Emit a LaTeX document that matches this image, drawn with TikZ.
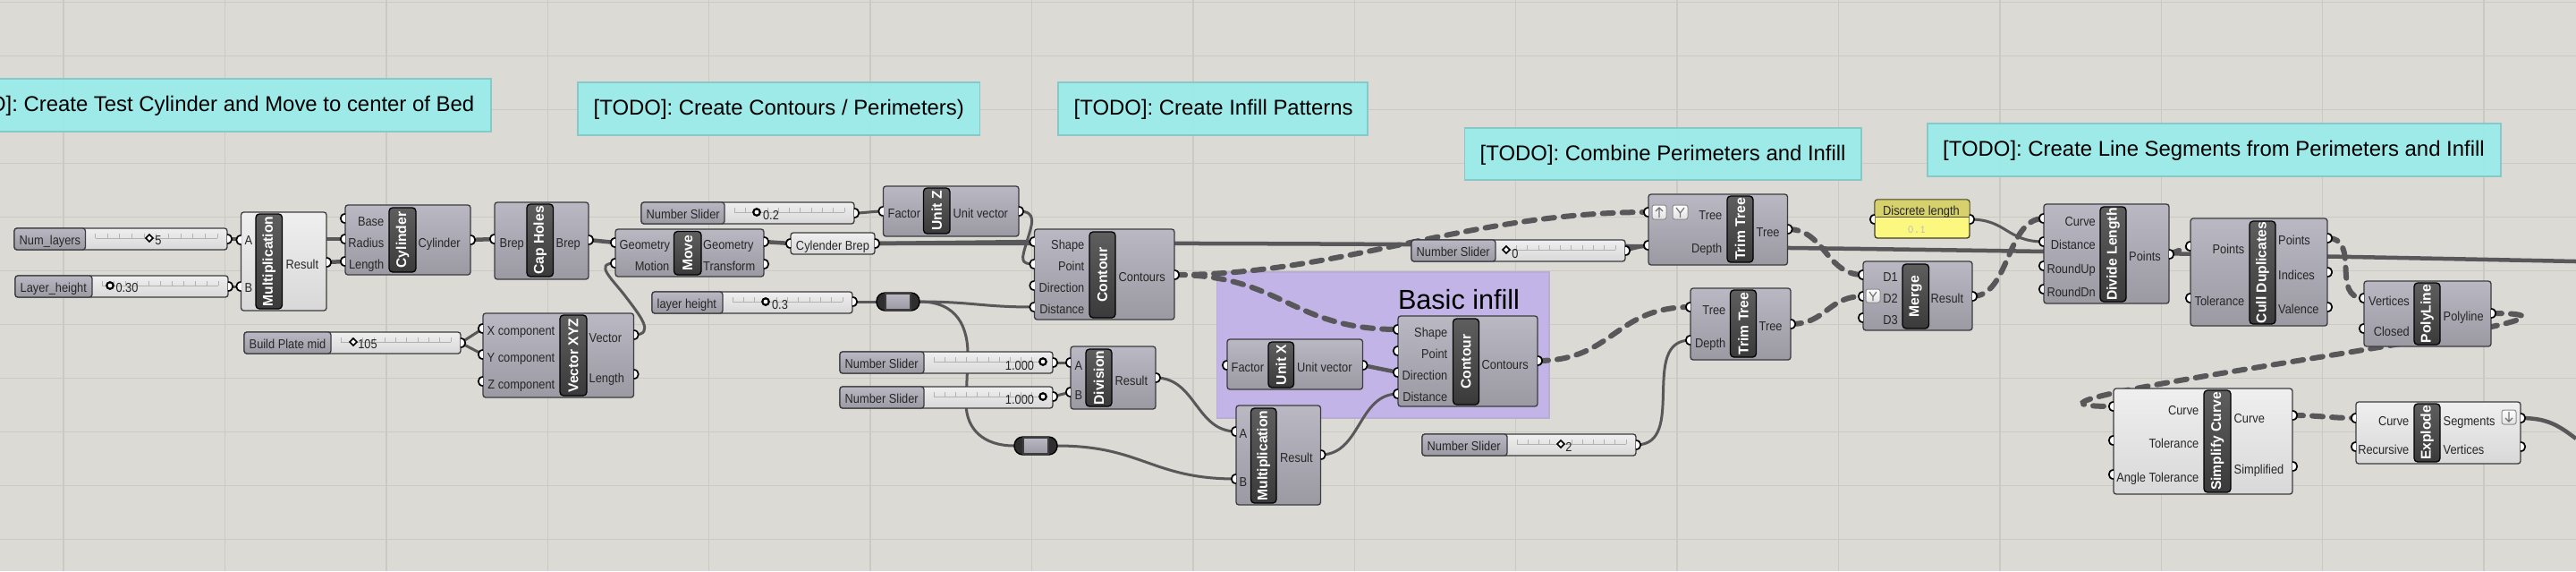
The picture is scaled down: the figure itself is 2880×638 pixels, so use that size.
\documentclass[tikz,border=0pt]{standalone}
\usepackage{fontspec}
\setmainfont{Liberation Sans}
\newfontfamily\labfont{Liberation Sans}[FakeStretch=0.89]
\usetikzlibrary{fit,shapes.geometric}

\definecolor{canvasbg}{HTML}{DCDAD4}
\definecolor{gridline}{HTML}{CAC9C2}
\definecolor{notefill}{HTML}{99ECEB}
\definecolor{noteline}{HTML}{86C9C8}
\definecolor{infillfill}{HTML}{C2B3E9}
\definecolor{infillline}{HTML}{B9ADD8}
\definecolor{boxtop}{HTML}{B9B8C3}
\definecolor{boxbot}{HTML}{9B9AA3}
\definecolor{boxline}{HTML}{3C3C40}
\definecolor{lighttop}{HTML}{EFEFEF}
\definecolor{lightbot}{HTML}{D8D8D8}
\definecolor{striptop}{HTML}{5E5E5E}
\definecolor{stripbot}{HTML}{3A3A3A}
\definecolor{wirecol}{HTML}{58585A}
\definecolor{yellowtop}{HTML}{D6D16C}
\definecolor{yellowbot}{HTML}{FCF77E}

\tikzset{
    compbox/.style={draw=boxline,line width=0.013cm,rounded corners=0.03cm,inner sep=0pt,top color=boxtop,bottom color=boxbot},
    lightbox/.style={compbox,top color=lighttop,bottom color=lightbot},
    stripbox/.style={draw=black,line width=0.013cm,rounded corners=0.04cm,inner sep=0pt,top color=striptop,bottom color=stripbot},
    striptext/.style={inner sep=0pt,text=white,font=\fontsize{4.45}{5}\selectfont\bfseries},
    lab/.style={inner sep=0pt,text=black!85,text height=0.1cm,text depth=0cm,font=\labfont\fontsize{4.1}{5}\selectfont},
    labl/.style={lab,anchor=west},
    labr/.style={lab,anchor=east},
    notebox/.style={draw=noteline,line width=0.015cm,fill=notefill,fill opacity=0.93,inner sep=0pt},
    notetext/.style={inner sep=0pt,text height=0.17cm,text depth=0cm,font=\fontsize{6.8}{9}\selectfont},
    wire/.style={draw=wirecol,line width=0.03cm},
    thickwire/.style={draw=wirecol,line width=0.045cm},
    dashwire/.style={draw=wirecol,line width=0.06cm,line cap=round,dash pattern=on 0.12cm off 0.1cm},
    track/.style={draw=black!30,line width=0.008cm},
    portline/.style={draw=black,line width=0.017cm},
    diamondh/.style={diamond,draw=black,line width=0.016cm,fill=white,inner sep=0pt,minimum size=0.085cm},
    circleh/.style={circle,draw=black,line width=0.022cm,fill=white,inner sep=0pt,minimum size=0.075cm},
    iconbox/.style={draw=black!45,line width=0.01cm,rounded corners=0.025cm,inner sep=0pt,top color=white,bottom color=black!12},
    iconmark/.style={draw=black!55,line width=0.012cm}
}

\newcommand{\ghbox}[6][compbox]{\node[#1,fit={(#3,#4) (#5,#6)}] (#2) {};}
\newcommand{\ghstrip}[6]{%
    \node[stripbox,fit={(#2,#3) (#4,#5)}] (#1) {};
    \node[striptext,rotate=90] (#1t) at (#1.center) {#6};}
\newcommand{\ghslider}[6]{%
    \node[lightbox,fit={(#2,#3) (#4,#3+24)}] (#1) {};
    \node[compbox,fit={(#2,#3) (#5,#3+24)}] (#1n) {};
    \draw[track] (#5+11,#3+11) -- (#4-11,#3+11);
    \foreach \k in {0,...,10} {\draw[track] ({#5+11+\k*(#4-#5-22)/10},#3+11) -- ++(0,-5);}
    \node[labl] (#1l) at (#2+5,#3+13) {#6};}
\newcommand{\ghnote}[5]{\node[notebox,fit={(#2,#3) (#4,#5)}] (#1) {};}
\newcommand{\ghrelay}[3]{%
    \node[draw=black,fill=black!82,rounded corners=0.095cm,inner sep=0pt,fit={(#2,#3-10) (#2+48,#3+10)}] (#1) {};
    \node[compbox,rounded corners=0pt,fit={(#2+10,#3-9) (#2+38,#3+9)}] (#1m) {};}
\newcommand{\ghicon}[5]{\node[iconbox,fit={(#2,#3) (#4,#5)}] (#1) {};}
\newcommand{\ghport}[2]{%
    \fill[white] (#1) ++(0,-5) .. controls +(#2*7,0) and +(#2*7,0) .. ++(0,10) -- cycle;
    \draw[portline] (#1) ++(0,-5) .. controls +(#2*7,0) and +(#2*7,0) .. ++(0,10);}

\begin{document}
\begin{tikzpicture}[x=0.01cm,y=-0.01cm]
    \useasboundingbox (0,0) rectangle (2880,638);
    \fill[canvasbg] (0,0) rectangle (2880,638);

    % Drawing canvas grid
    \foreach \k in {0,...,15} {\draw[gridline,line width=0.014cm] ({71+180.4*\k},0) -- ({71+180.4*\k},638);}
    \foreach \k in {0,...,10} {\draw[gridline,line width=0.014cm] (0,{2.5+60*\k}) -- (2880,{2.5+60*\k});}

    % Marking note groups
    \ghnote{note1}{-20}{88}{549}{147}
    \node[notetext,anchor=east] (note1t) at (531,116) {[TODO]: Create Test Cylinder and Move to center of Bed};
    \ghnote{note2}{646}{92}{1095.5}{151}
    \node[notetext,anchor=west] (note2t) at (663,120) {[TODO]: Create Contours / Perimeters)};
    \ghnote{note3}{1183}{92}{1529}{151}
    \node[notetext,anchor=west] (note3t) at (1200,120) {[TODO]: Create Infill Patterns};
    \ghnote{note4}{1637.5}{143}{2081}{201}
    \node[notetext,anchor=west] (note4t) at (1654,171) {[TODO]: Combine Perimeters and Infill};
    \ghnote{note5}{2155}{138}{2796}{197}
    \node[notetext,anchor=west] (note5t) at (2171.5,166) {[TODO]: Create Line Segments from Perimeters and Infill};

    % Marking basic infill group
    \node[draw=infillline,line width=0.015cm,fill=infillfill,fill opacity=0.95,inner sep=0pt,fit={(1360.5,304) (1732,467)}] (infill) {};
    \node[inner sep=0pt,text height=0.21cm,text depth=0cm,font=\fontsize{8.7}{11}\selectfont] (infillt) at (1631,335) {Basic infill};

    % Marking port positions
    \coordinate (numlo) at (254,267);
    \coordinate (layho) at (255,320);
    \coordinate (plateo) at (515,383);
    \coordinate (sltopo) at (955,238);
    \coordinate (layo) at (953,337);
    \coordinate (slao) at (1177,405);
    \coordinate (slbo) at (1177,443);
    \coordinate (slzo) at (1817,280);
    \coordinate (sltwoo) at (1829,497);
    \coordinate (multa) at (269.5,268);
    \coordinate (multb) at (269.5,320);
    \coordinate (multr) at (365,293);
    \coordinate (cylb) at (386,244);
    \coordinate (cylr) at (386,267);
    \coordinate (cyll) at (386,292);
    \coordinate (cylo) at (526,268);
    \coordinate (capi) at (553,267);
    \coordinate (capo) at (658,268);
    \coordinate (vecx) at (540,367);
    \coordinate (vecy) at (540,396);
    \coordinate (vecz) at (540,426);
    \coordinate (vecv) at (708.5,374);
    \coordinate (vecl) at (708.5,418);
    \coordinate (moveg) at (688,271);
    \coordinate (movem) at (688,294);
    \coordinate (moveo) at (854,270);
    \coordinate (movet) at (854,295);
    \coordinate (unitzi) at (987.5,236);
    \coordinate (unitzo) at (1139,236);
    \coordinate (brepi) at (884,272);
    \coordinate (brepo) at (978,272);
    \coordinate (contas) at (1156.5,270);
    \coordinate (contap) at (1156.5,295);
    \coordinate (contad) at (1156.5,319);
    \coordinate (contae) at (1156.5,343);
    \coordinate (contao) at (1313,307);
    \coordinate (divia) at (1197,405);
    \coordinate (divib) at (1197,438);
    \coordinate (divio) at (1292,422);
    \coordinate (mulba) at (1382,482);
    \coordinate (mulbb) at (1382,535);
    \coordinate (mulbr) at (1476.5,508);
    \coordinate (unitxi) at (1372,408);
    \coordinate (unitxo) at (1523.5,408);
    \coordinate (contbs) at (1563,368);
    \coordinate (contbp) at (1563,392);
    \coordinate (contbd) at (1563,416);
    \coordinate (contbe) at (1563,440);
    \coordinate (contbo) at (1719,403);
    \coordinate (trimat) at (1843,237);
    \coordinate (trimad) at (1843,274);
    \coordinate (trimao) at (1998.5,256);
    \coordinate (trimbt) at (1890,343);
    \coordinate (trimbd) at (1890,380);
    \coordinate (trimbo) at (2002,362);
    \coordinate (mergea) at (2083,307);
    \coordinate (mergeb) at (2083,331);
    \coordinate (mergec) at (2083,355);
    \coordinate (mergeo) at (2205,331);
    \coordinate (discri) at (2096,245);
    \coordinate (discro) at (2202,245);
    \coordinate (dlenc) at (2285,244);
    \coordinate (dlend) at (2285,270);
    \coordinate (dlenu) at (2285,297);
    \coordinate (dlenn) at (2285,323);
    \coordinate (dleno) at (2425,284);
    \coordinate (cullp) at (2449,275);
    \coordinate (cullt) at (2449,333);
    \coordinate (culla) at (2602,266);
    \coordinate (cullb) at (2602,304);
    \coordinate (cullc) at (2602,343);
    \coordinate (polyv) at (2643,333);
    \coordinate (polyc) at (2643,367);
    \coordinate (polyo) at (2785,350);
    \coordinate (simpc) at (2363,454);
    \coordinate (simpt) at (2363,492);
    \coordinate (simpa) at (2363,530);
    \coordinate (simpo) at (2563,464);
    \coordinate (simps) at (2563,521);
    \coordinate (explc) at (2634,467);
    \coordinate (explr) at (2634,499);
    \coordinate (expls) at (2818,467);
    \coordinate (explv) at (2818,499);
    \coordinate (relaai) at (980,337);
    \coordinate (relaao) at (1028,337);
    \coordinate (relabi) at (1134,498);
    \coordinate (relabo) at (1182,498);
    \coordinate (wireend) at (2880,292);
    \coordinate (segend) at (2880,490);

    % Drawing solid wires
    \draw[wire] (numlo) -- (multa);
    \draw[wire] (layho) -- (multb);
    \draw[thickwire] (numlo) -- (cylr);
    \draw[thickwire] (multr) -- (cyll);
    \draw[thickwire] (cylo) -- (capi);
    \draw[thickwire] (capo) -- (moveg);
    \draw[wire] (plateo) -- (vecx);
    \draw[wire] (plateo) -- (vecy);
    \draw[wire] (vecv) .. controls +(25,0) and (715,352) .. (700,332) .. controls (685,312) and (663,294) .. (movem);
    \draw[wire] (sltopo) .. controls +(12,0) and +(-12,0) .. (unitzi);
    \draw[wire] (unitzo) .. controls +(21,0) and (1154,250) .. (1148,270) .. controls (1142,290) and (1140,295) .. (contap);
    \draw[thickwire] (moveo) -- (brepi);
    \draw[thickwire] (brepo) -- (contas);
    \draw[thickwire] (brepo) .. controls (1700,270) and (2300,280) .. (wireend);
    \draw[wire] (layo) -- (relaai);
    \draw[wire] (relaao) .. controls +(60,0) and +(-60,0) .. (contae);
    \draw[wire] (relaao) .. controls +(42,0) and (1083,365) .. (1082,400) -- (1080,450) .. controls (1080,480) and (1100,498) .. (relabi);
    \draw[wire] (slao) -- (divia);
    \draw[wire] (slbo) -- (divib);
    \draw[wire] (divio) .. controls +(45,0) and +(-45,0) .. (mulba);
    \draw[wire] (relabo) .. controls +(95,0) and +(-95,0) .. (mulbb);
    \draw[wire] (mulbr) .. controls +(45,0) and +(-45,0) .. (contbe);
    \draw[thickwire] (unitxo) -- (contbd);
    \draw[wire] (slzo) -- (trimad);
    \draw[wire] (sltwoo) .. controls +(58,0) and +(-58,0) .. (trimbd);
    \draw[wire] (discro) .. controls +(42,0) and +(-42,0) .. (dlend);
    \draw[thickwire] (expls) .. controls +(30,0) and (2860,475) .. (segend);

    % Drawing dashed wires
    \draw[dashwire] (contao) .. controls +(120,0) and +(-120,0) .. (contbs);
    \draw[dashwire] (contao) .. controls (1500,307) and (1640,237) .. (trimat);
    \draw[dashwire] (contbo) .. controls +(85,0) and +(-85,0) .. (trimbt);
    \draw[dashwire] (trimao) .. controls +(42,0) and +(-42,0) .. (mergea);
    \draw[dashwire] (trimbo) .. controls +(40,0) and +(-40,0) .. (mergeb);
    \draw[dashwire] (mergeo) .. controls +(42,0) and +(-42,0) .. (dlenc);
    \draw[dashwire] (dleno) -- (cullp);
    \draw[dashwire] (culla) .. controls +(38,0) and +(-38,0) .. (polyv);
    \draw[dashwire] (polyo) .. controls (3000,350) and (2150,454) .. (simpc);
    \draw[dashwire] (simpo) .. controls +(30,0) and +(-30,0) .. (explc);

    % Marking Multiplication
    \ghslider{numl}{16}{255}{254}{95.5}{Num\_layers}
    \node[diamondh] (numlh) at (167,266) {};
    \node[lab] (numlv) at (177,268) {5};
    \ghslider{layh}{17}{308}{255}{103}{Layer\_height}
    \node[circleh] (layhh) at (123,319) {};
    \node[lab] (layhv) at (142,321) {0.30};
    \ghbox[lightbox]{mult}{269.5}{237}{365}{347}
    \ghstrip{mults}{286}{239}{315.5}{345}{Multiplication}
    \node[lab] (multla) at (278,268) {A};
    \node[lab] (multlb) at (278,321) {B};
    \node[labl] (multlr) at (319,295) {Result};

    % Marking Cylinder
    \ghbox{cyl}{386}{229}{526}{307}
    \ghstrip{cyls}{435}{232}{465}{304}{Cylinder}
    \node[labr] (cylla) at (430,247) {Base};
    \node[labr] (cyllb) at (430,271) {Radius};
    \node[labr] (cyllc) at (430,295) {Length};
    \node[labl] (cylld) at (467,271) {Cylinder};

    % Marking Cap Holes
    \ghbox{cap}{553}{226}{658}{312}
    \ghstrip{caps}{589}{228}{618.5}{309}{Cap Holes}
    \node[labl] (capla) at (558,271) {Brep};
    \node[labl] (caplb) at (621,271) {Brep};

    % Marking Vector XYZ
    \ghslider{plate}{273}{371}{515}{370}{Build Plate mid}
    \node[diamondh] (plateh) at (395,382) {};
    \node[lab] (platev) at (411,384) {105};
    \ghbox{vec}{540}{350}{708.5}{444}
    \ghstrip{vecs}{626}{352}{656}{442}{Vector XYZ}
    \node[labr] (vecla) at (621,369) {X component};
    \node[labr] (veclb) at (621,399) {Y component};
    \node[labr] (veclc) at (621,429) {Z component};
    \node[labl] (vecld) at (658,377) {Vector};
    \node[labl] (vecle) at (658,422) {Length};

    % Marking Move
    \ghbox{move}{688}{256}{854}{309}
    \ghstrip{moves}{753.5}{258.5}{784}{307}{Move}
    \node[labl] (movela) at (692,273) {Geometry};
    \node[labr] (movelb) at (749,297) {Motion};
    \node[labl] (movelc) at (785.5,273) {Geometry};
    \node[labl] (moveld) at (785.5,297) {Transform};

    % Marking Unit Z and Cylender Brep
    \ghslider{sltop}{717}{226}{955}{810}{Number Slider}
    \node[circleh] (sltoph) at (846,237) {};
    \node[lab] (sltopv) at (862,240) {0.2};
    \ghbox{unitz}{987.5}{208}{1139}{264}
    \ghstrip{unitzs}{1032.5}{210}{1062}{261}{Unit Z}
    \node[labl] (unitzla) at (992,238) {Factor};
    \node[labl] (unitzlb) at (1065,238) {Unit vector};
    \ghbox[lightbox]{brep}{884}{260}{978}{284}
    \node[lab] (brepl) at (931,274) {Cylender Brep};

    % Marking Contour
    \ghbox{conta}{1156.5}{256}{1313}{357}
    \ghstrip{contas_}{1218}{259}{1247}{355}{Contour}
    \node[labr] (contala) at (1213,273) {Shape};
    \node[labr] (contalb) at (1213,297) {Point};
    \node[labr] (contalc) at (1213,321) {Direction};
    \node[labr] (contald) at (1213,345) {Distance};
    \node[labl] (contale) at (1250,309) {Contours};

    % Marking layer height and relays
    \ghslider{lay}{729}{326}{953}{808}{layer height}
    \node[circleh] (layh2) at (856,337) {};
    \node[lab] (layv) at (872,340) {0.3};
    \ghrelay{relaa}{980}{337}
    \ghrelay{relab}{1134}{498}

    % Marking Division
    \ghslider{sla}{939}{393}{1177}{1033}{Number Slider}
    \node[circleh] (slah) at (1166,404) {};
    \node[lab] (slav) at (1140,408) {1.000};
    \ghslider{slb}{939}{432}{1177}{1033}{Number Slider}
    \node[circleh] (slbh) at (1166,443) {};
    \node[lab] (slbv) at (1140,446) {1.000};
    \ghbox{divi}{1197}{387}{1292}{457}
    \ghstrip{divis}{1214}{390}{1243}{454}{Division}
    \node[lab] (divila) at (1206,408) {A};
    \node[lab] (divilb) at (1206,441) {B};
    \node[labl] (divilc) at (1246,425) {Result};

    % Marking second Multiplication
    \ghbox{mulb}{1382}{453}{1476.5}{564}
    \ghstrip{mulbs}{1398.5}{456}{1427}{562}{Multiplication}
    \node[lab] (mulbla) at (1390,484) {A};
    \node[lab] (mulblb) at (1390,538) {B};
    \node[labl] (mulblc) at (1430.5,511) {Result};

    % Marking Unit X
    \ghbox{unitx}{1372}{379}{1523.5}{435}
    \ghstrip{unitxs}{1418}{382}{1446.5}{433}{Unit X}
    \node[labl] (unitxla) at (1376,410) {Factor};
    \node[labl] (unitxlb) at (1449.5,410) {Unit vector};

    % Marking second Contour
    \ghbox{contb}{1563}{353}{1719}{454}
    \ghstrip{contbs_}{1624.5}{356}{1653.5}{452}{Contour}
    \node[labr] (contbla) at (1619,371) {Shape};
    \node[labr] (contblb) at (1619,395) {Point};
    \node[labr] (contblc) at (1619,419) {Direction};
    \node[labr] (contbld) at (1619,443) {Distance};
    \node[labl] (contble) at (1656,407) {Contours};

    % Marking first Trim Tree
    \ghslider{slz}{1578}{268}{1817}{1672}{Number Slider}
    \node[diamondh] (slzh) at (1684,279) {};
    \node[lab] (slzv) at (1694,283) {0};
    \ghbox{trima}{1843}{217}{1998.5}{296}
    \ghstrip{trimas}{1931}{219}{1960}{293}{Trim Tree}
    \node[labr] (trimala) at (1926,240) {Tree};
    \node[labr] (trimalb) at (1926,277) {Depth};
    \node[labl] (trimalc) at (1963,259) {Tree};
    \ghicon{trimaia}{1847}{229}{1863}{245}
    \draw[iconmark] (1855,243) -- (1855,232) (1851,236) -- (1855,232) -- (1859,236);
    \ghicon{trimaib}{1870}{229}{1887}{245}
    \draw[iconmark] (1874,232) -- (1878.5,238) -- (1883,232) (1878.5,238) -- (1878.5,243);

    % Marking second Trim Tree
    \ghslider{sltwo}{1590}{485}{1829}{1685}{Number Slider}
    \node[diamondh] (sltwoh) at (1745,496) {};
    \node[lab] (sltwov) at (1754,499) {2};
    \ghbox{trimb}{1890}{322}{2002}{402}
    \ghstrip{trimbs}{1934.5}{324}{1963.5}{399}{Trim Tree}
    \node[labr] (trimbla) at (1930,346) {Tree};
    \node[labr] (trimblb) at (1930,383) {Depth};
    \node[labl] (trimblc) at (1966,364) {Tree};

    % Marking Merge
    \ghbox{merge}{2083}{292}{2205}{369}
    \ghstrip{merges}{2127}{295}{2156.5}{367}{Merge}
    \node[labr] (mergela) at (2122.5,309) {D1};
    \node[labr] (mergelb) at (2122.5,333) {D2};
    \node[labr] (mergelc) at (2122.5,357) {D3};
    \node[labl] (mergeld) at (2158,333) {Result};
    \ghicon{mergei}{2086}{323}{2102}{338}
    \draw[iconmark] (2090,326) -- (2094,331.5) -- (2098,326) (2094,331.5) -- (2094,336);

    % Marking Discrete length
    \node[compbox,top color=yellowbot,bottom color=yellowbot,draw=black!70!yellowtop,fit={(2096,223) (2202,266)}] (discr) {};
    \fill[yellowtop,rounded corners=0.03cm] (2096.5,223.5) -- (2201.5,223.5) -- (2201.5,242) -- (2096.5,242) -- cycle;
    \draw[black!70,line width=0.01cm] (2096.5,242) -- (2201.5,242);
    \node[lab] (discrl) at (2148,235) {Discrete length};
    \node[lab,text=black!25,font=\fontsize{3.6}{4}\selectfont\ttfamily] (discrv) at (2143,255) {0.1};

    % Marking Divide Length
    \ghbox{dlen}{2285}{228}{2425}{339}
    \ghstrip{dlens}{2348}{231}{2377}{337}{Divide Length}
    \node[labr] (dlenla) at (2343.5,247) {Curve};
    \node[labr] (dlenlb) at (2343.5,273) {Distance};
    \node[labr] (dlenlc) at (2343.5,300) {RoundUp};
    \node[labr] (dlenld) at (2343.5,326) {RoundDn};
    \node[labl] (dlenle) at (2379.5,286) {Points};

    % Marking Cull Duplicates
    \ghbox{cull}{2449}{244}{2602}{364}
    \ghstrip{culls}{2515}{247}{2544}{362}{Cull Duplicates}
    \node[labr] (cullla) at (2510,278) {Points};
    \node[labr] (culllb) at (2510,336) {Tolerance};
    \node[labl] (culllc) at (2546.5,268) {Points};
    \node[labl] (cullld) at (2546.5,307) {Indices};
    \node[labl] (cullle) at (2546.5,345) {Valence};

    % Marking PolyLine
    \ghbox{poly}{2643}{314}{2785}{387}
    \ghstrip{polys}{2699}{316}{2728}{385}{PolyLine}
    \node[labr] (polyla) at (2694.5,336) {Vertices};
    \node[labr] (polylb) at (2694.5,370) {Closed};
    \node[labl] (polylc) at (2731,353) {Polyline};

    % Marking Simplify Curve
    \ghbox[lightbox]{simp}{2363}{434}{2563}{552}
    \ghstrip{simps_}{2464}{436}{2494}{550}{Simplify Curve}
    \node[labr] (simpla) at (2459,458) {Curve};
    \node[labr] (simplb) at (2459,495) {Tolerance};
    \node[labr] (simplc) at (2459,533) {Angle Tolerance};
    \node[labl] (simpld) at (2497,467) {Curve};
    \node[labl] (simple) at (2497,524) {Simplified};

    % Marking Explode
    \ghbox[lightbox]{expl}{2634}{449}{2818}{518}
    \ghstrip{expls_}{2699}{451}{2728}{516}{Explode}
    \node[labr] (explla) at (2694,470) {Curve};
    \node[labr] (expllb) at (2694,502) {Recursive};
    \node[labl] (expllc) at (2731,470) {Segments};
    \node[labl] (explld) at (2731,502) {Vertices};
    \ghicon{expli}{2797}{458}{2813}{474}
    \draw[iconmark] (2805,460) -- (2805,471) (2801,467) -- (2805,471) -- (2809,467);

    % Marking ports
    \foreach \p in {multa,multb,cylb,cylr,cyll,capi,vecx,vecy,vecz,moveg,movem,unitzi,brepi,contas,contap,contad,contae,divia,divib,mulba,mulbb,unitxi,contbs,contbp,contbd,contbe,trimat,trimad,trimbt,trimbd,mergea,mergeb,mergec,discri,dlenc,dlend,dlenu,dlenn,cullp,cullt,polyv,polyc,simpc,simpt,simpa,explc,explr} {\ghport{\p}{-1}}
    \foreach \p in {numlo,layho,plateo,sltopo,layo,slao,slbo,slzo,sltwoo,multr,cylo,capo,vecv,vecl,moveo,movet,unitzo,brepo,contao,divio,mulbr,unitxo,contbo,trimao,trimbo,mergeo,discro,dleno,culla,cullb,cullc,polyo,simpo,simps,expls,explv} {\ghport{\p}{1}}
\end{tikzpicture}
\end{document}
